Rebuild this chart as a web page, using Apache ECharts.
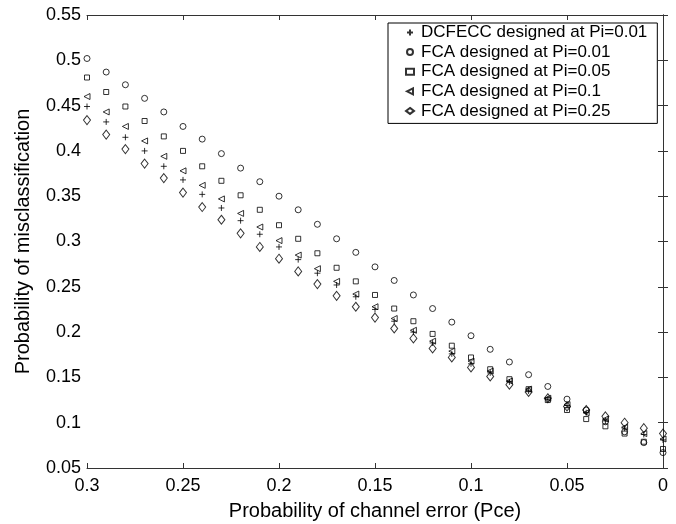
<!DOCTYPE html>
<html>
<head>
<meta charset="utf-8">
<script src="https://cdn.jsdelivr.net/npm/echarts@6/dist/echarts.min.js"></script>
<style>
  html, body { margin: 0; padding: 0; background: #fff; }
  #chart { width: 676px; height: 524px; }
</style>
</head>
<body>
<div id="chart"></div>
<script>
// channel error probability (x), plotted reversed from 0.3 down to 0
var pce = [0.30, 0.29, 0.28, 0.27, 0.26, 0.25, 0.24, 0.23, 0.22, 0.21, 0.20,
           0.19, 0.18, 0.17, 0.16, 0.15, 0.14, 0.13, 0.12, 0.11, 0.10,
           0.09, 0.08, 0.07, 0.06, 0.05, 0.04, 0.03, 0.02, 0.01, 0.00];

var dcfecc = [0.449, 0.432, 0.415, 0.400, 0.383, 0.368, 0.352, 0.337, 0.323, 0.308, 0.294,
              0.280, 0.265, 0.252, 0.239, 0.225, 0.212, 0.200, 0.188, 0.176, 0.165,
              0.155, 0.145, 0.135, 0.126, 0.119, 0.111, 0.102, 0.094, 0.087, 0.081];
var fca001 = [0.502, 0.487, 0.473, 0.458, 0.443, 0.427, 0.413, 0.397, 0.381, 0.366, 0.350,
              0.335, 0.319, 0.303, 0.288, 0.272, 0.257, 0.241, 0.226, 0.211, 0.196,
              0.181, 0.167, 0.153, 0.140, 0.126, 0.114, 0.101, 0.090, 0.078, 0.067];
var fca005 = [0.481, 0.465, 0.449, 0.433, 0.416, 0.400, 0.383, 0.367, 0.351, 0.335, 0.318,
              0.303, 0.287, 0.271, 0.256, 0.241, 0.226, 0.212, 0.198, 0.185, 0.172,
              0.159, 0.148, 0.137, 0.125, 0.114, 0.104, 0.096, 0.088, 0.079, 0.071];
var fca01  = [0.460, 0.443, 0.427, 0.411, 0.394, 0.378, 0.362, 0.347, 0.331, 0.316, 0.301,
              0.285, 0.270, 0.256, 0.242, 0.228, 0.215, 0.202, 0.190, 0.179, 0.168,
              0.157, 0.146, 0.137, 0.127, 0.120, 0.111, 0.104, 0.095, 0.088, 0.082];
var fca025 = [0.434, 0.418, 0.402, 0.386, 0.370, 0.354, 0.338, 0.324, 0.309, 0.294, 0.281,
              0.267, 0.253, 0.240, 0.228, 0.216, 0.204, 0.193, 0.182, 0.172, 0.161,
              0.151, 0.142, 0.134, 0.127, 0.118, 0.114, 0.107, 0.100, 0.094, 0.088];

var names = ['DCFECC designed at Pi=0.01', 'FCA designed at Pi=0.01', 'FCA designed at Pi=0.05',
             'FCA designed at Pi=0.1', 'FCA designed at Pi=0.25'];

function pts(ys) {
  return pce.map(function (x, i) { return [x, ys[i]]; });
}

var hollow = { color: 'rgba(0,0,0,0)', borderColor: '#000', borderWidth: 1 };
var axisLine = { lineStyle: { color: '#333', width: 1 } };
var tick = { inside: true, length: 5, lineStyle: { color: '#333' } };
var font = 'Liberation Sans, Arial, sans-serif';

var myChart = echarts.init(document.getElementById('chart'));
var option = {
  backgroundColor: '#fff',
  animation: false,
  textStyle: { fontFamily: font, color: '#000' },
  grid: { left: 87, right: 13, top: 15, bottom: 56, outerBoundsMode: 'none' },
  legend: {
    orient: 'vertical',
    left: 388, top: 23,
    padding: [1, 10, 4, 17],
    itemWidth: 8, itemHeight: 6,
    itemGap: 2.6,
    backgroundColor: '#fff',
    borderColor: '#000', borderWidth: 1,
    textStyle: { fontSize: 17, lineHeight: 17, color: '#000', fontFamily: font, padding: [0, 0, 0, 2] },
    data: names
  },
  xAxis: [{
    type: 'value', inverse: true, min: 0, max: 0.3, interval: 0.05,
    name: 'Probability of channel error (Pce)', nameLocation: 'middle', nameGap: 33,
    nameTextStyle: { fontSize: 20, color: '#000', fontFamily: font },
    axisLine: axisLine, axisTick: tick,
    axisLabel: { fontSize: 18, color: '#000', margin: 9, fontFamily: font },
    splitLine: { show: false }
  }, {
    type: 'value', inverse: true, min: 0, max: 0.3, interval: 0.05, position: 'top',
    axisLine: axisLine, axisTick: tick, axisLabel: { show: false }, splitLine: { show: false }
  }],
  yAxis: [{
    type: 'value', min: 0.05, max: 0.55, interval: 0.05,
    name: 'Probability of misclassification', nameLocation: 'middle', nameGap: 54,
    nameTextStyle: { fontSize: 20, color: '#000', fontFamily: font },
    axisLine: axisLine, axisTick: tick,
    axisLabel: { fontSize: 18, color: '#000', margin: 6, fontFamily: font },
    splitLine: { show: false }
  }, {
    type: 'value', min: 0.05, max: 0.55, interval: 0.05, position: 'right',
    axisLine: axisLine, axisTick: tick, axisLabel: { show: false }, splitLine: { show: false }
  }],
  series: [{
    name: names[0], type: 'scatter', data: pts(dcfecc),
    symbol: 'path://M0,5L10,5M5,0L5,10', symbolSize: 6, itemStyle: hollow
  }, {
    name: names[1], type: 'scatter', data: pts(fca001),
    symbol: 'circle', symbolSize: 6, itemStyle: hollow
  }, {
    name: names[2], type: 'scatter', data: pts(fca005),
    symbol: 'rect', symbolSize: 5, itemStyle: hollow
  }, {
    name: names[3], type: 'scatter', data: pts(fca01),
    symbol: 'path://M0,5L10,0L10,10Z', symbolSize: 6, itemStyle: hollow
  }, {
    name: names[4], type: 'scatter', data: pts(fca025),
    symbol: 'diamond', symbolSize: [7, 9], itemStyle: hollow
  }]
};
myChart.setOption(option);
</script>
</body>
</html>
